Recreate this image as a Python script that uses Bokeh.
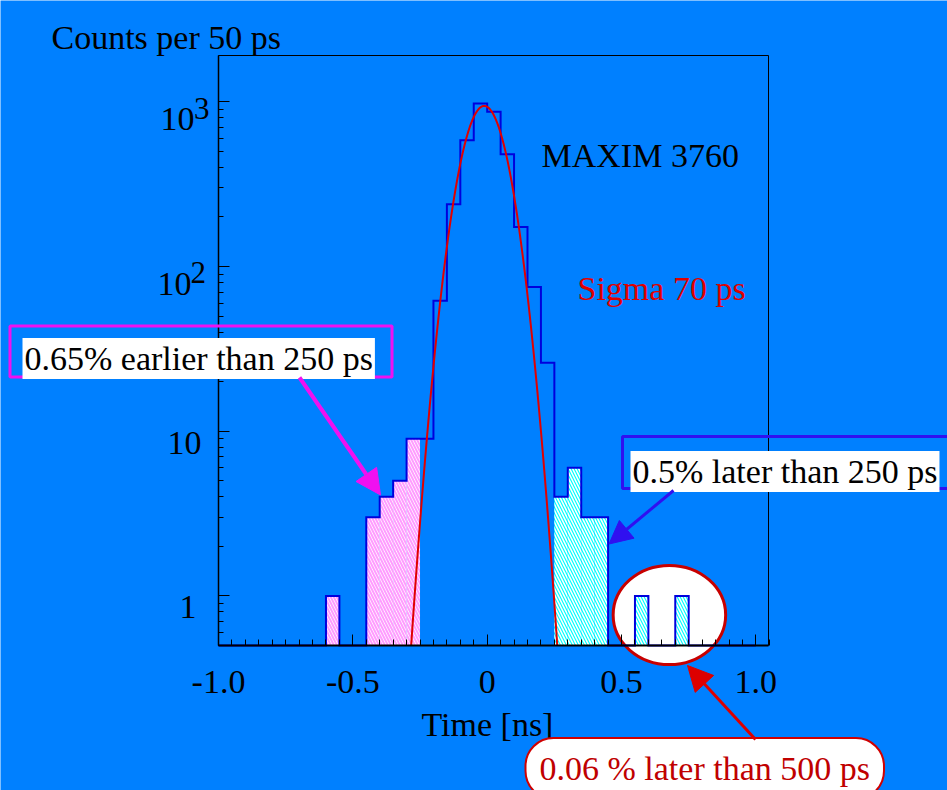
import math
import numpy as np
from bokeh.plotting import figure
from bokeh.models import (Range1d, FixedTicker, Label, Arrow, NormalHead,
                          BoxAnnotation, LinearAxis, LogAxis)
from bokeh.embed import file_html
from bokeh.resources import INLINE

# ---------------- data ----------------
bin_start = -1.0
bin_width = 0.05
counts = [0, 0, 0, 0, 0, 0, 0, 0,
          1, 0, 0, 3, 4, 5, 9, 9,
          62, 239, 585, 975, 869, 481, 174, 75, 26,
          4, 6, 3, 3, 0, 0, 1, 0, 0, 1,
          0, 0, 0, 0, 0]
bin_edges = [round(bin_start + i * bin_width, 2) for i in range(len(counts) + 1)]
early_cut = -0.25   # ns
late_cut = 0.25     # ns

fit_amplitude = 944.0
fit_mean = -0.011   # ns
fit_sigma = 0.070   # ns

x_ticks = [-1.0, -0.5, 0.0, 0.5, 1.0]
x_tick_labels = ["-1.0", "-0.5", "0", "0.5", "1.0"]
x_minor = [round(-1.0 + 0.05 * i, 2) for i in range(42)]
y_ticks = [1, 10, 100, 1000]
y_minor = [0.6, 0.7, 0.8, 0.9] + [m * d for d in (1, 10, 100) for m in range(2, 10)]

# ---------------- layout ----------------
# axes box (page pixels) and its data limits
X_START, X_END = -1.0, 1.047
Y_START, Y_END = 0.5, 1910.0
BOX_L, BOX_R, BOX_T, BOX_B = 218, 768, 55, 645
W, H = 947, 790
BG = "#0080ff"
FONT = "Liberation Serif"
MAG = "#f010f0"
VIO = "#3010f0"
DRED = "#c80000"

XPX = (BOX_R - BOX_L) / (X_END - X_START)
L0, L1 = math.log10(Y_START), math.log10(Y_END)
DEC = (BOX_B - BOX_T) / (L1 - L0)


def xd(px):
    return X_START + (px - BOX_L) / XPX


def yd(py):
    return 10 ** (L0 + (BOX_B - py) / DEC)


p = figure(width=W, height=H, title=None,
           x_range=Range1d(xd(0), xd(W)), y_range=Range1d(yd(H), yd(0)),
           y_axis_type="log", x_axis_location=None, y_axis_location=None,
           output_backend="svg", toolbar_location=None,
           min_border=0, min_border_left=0, min_border_right=0,
           min_border_top=0, min_border_bottom=0,
           background_fill_color=BG, border_fill_color=BG,
           outline_line_color=None)
p.grid.visible = False

# ellipse highlighting the > 500 ps entries (drawn first, under the bars)
p.ellipse(x=[xd(668.9)], y=[yd(614.5)], width=112.5, height=99,
          width_units="screen", height_units="screen",
          fill_color="white", line_color=DRED, line_width=3)

# hatched tails
floor = Y_START
el, er, et, ll, lr, lt = [], [], [], [], [], []
for i, c in enumerate(counts):
    if c <= 0:
        continue
    if bin_edges[i + 1] <= early_cut + 1e-9:
        el.append(bin_edges[i]); er.append(bin_edges[i + 1]); et.append(c)
    elif bin_edges[i] >= late_cut - 1e-9:
        ll.append(bin_edges[i]); lr.append(bin_edges[i + 1]); lt.append(c)

p.quad(left=el, right=er, top=et, bottom=floor, fill_color="white", line_color=None,
       hatch_pattern="\\", hatch_color="#ff9cff", hatch_scale=6, hatch_weight=2.0)
p.quad(left=ll, right=lr, top=lt, bottom=floor, fill_color="#00ffff", line_color=None,
       hatch_pattern="\\", hatch_color="white", hatch_scale=6, hatch_weight=1.6)

# histogram outline (step)
sx, sy = [], []
for i, c in enumerate(counts):
    v = c if c > 0 else floor
    sx += [bin_edges[i], bin_edges[i + 1]]
    sy += [v, v]
p.line(sx, sy, line_color="#0000dd", line_width=2, line_join="miter")

# gaussian fit, drawn down to the bottom of the axes box
half = fit_sigma * math.sqrt(2 * math.log(fit_amplitude / Y_START))
fx = np.linspace(fit_mean - half, fit_mean + half, 401)
fy = fit_amplitude * np.exp(-0.5 * ((fx - fit_mean) / fit_sigma) ** 2)
p.line(fx, fy, line_color="#e00000", line_width=2)

# axes box
p.add_layout(BoxAnnotation(left=X_START, right=X_END, bottom=Y_START, top=Y_END,
                           fill_alpha=0, line_color="black", line_alpha=1.0,
                           line_width=1))

# axes
xa = LinearAxis(fixed_location=Y_START, bounds=(X_START, X_END),
                ticker=FixedTicker(ticks=x_ticks, minor_ticks=x_minor))
xa.major_label_overrides = {k: v for k, v in zip(x_ticks, x_tick_labels)}
xa.major_label_text_font = FONT
xa.major_label_text_font_size = "34px"
xa.major_label_text_color = "black"
xa.major_label_standoff = 25
xa.major_tick_in, xa.major_tick_out = 11, 0
xa.minor_tick_in, xa.minor_tick_out = 6, 0
xa.axis_line_width = 2
p.add_layout(xa, "below")

ya = LogAxis(fixed_location=X_START, bounds=(Y_START, Y_END),
             ticker=FixedTicker(ticks=y_ticks, minor_ticks=y_minor))
ya.major_label_overrides = {k: "" for k in y_ticks}
ya.major_tick_in, ya.major_tick_out = 11, 0
ya.minor_tick_in, ya.minor_tick_out = 5, 0
ya.axis_line_width = 1.5
p.add_layout(ya, "left")


def lab(text, px, py, size=34, color="black", align="left", pad=0, **kw):
    # px, py: left edge / baseline of the text itself (padding compensated)
    extra = {}
    if pad:
        ph, pv = pad
        extra["padding"] = dict(left=ph, right=ph, top=pv, bottom=pv)
        px, py = px - ph, py - pv
    p.add_layout(Label(x=xd(px), y=yd(py), text=text, text_font=FONT,
                       text_font_size=f"{size}px", text_color=color,
                       text_align=align, text_baseline="alphabetic", **extra, **kw))


# y tick labels (with superscripts)
lab("10", 194, 118.3, align="right")
lab("3", 193.5, 108.3, size=31)
lab("10", 191, 283.3, align="right")
lab("2", 190, 272.0, size=31)
lab("10", 201, 442.7, align="right")
lab("1", 196, 606.0, align="right")

# axis titles and notes
lab("Counts per 50 ps", 51, 37.3)
lab("Time [ns]", 421, 724)
lab("MAXIM 3760", 541, 155)
lab("Sigma 70 ps", 577, 288, color="#e00000")

# boxed annotations
p.add_layout(BoxAnnotation(left=xd(9.5), right=xd(391.5), top=yd(325.5), bottom=yd(376.5),
                           fill_alpha=0, line_color=MAG, line_alpha=1.0, line_width=3))
lab("0.65% earlier than 250 ps", 24, 360, pad=(2, 2), background_fill_color="white")

p.add_layout(BoxAnnotation(left=xd(622), right=xd(960), top=yd(436), bottom=yd(488),
                           fill_alpha=0, line_color=VIO, line_alpha=1.0, line_width=3))
lab("0.5% later than 250 ps", 632, 473, pad=(2, 2), background_fill_color="white")

lab("0.06 % later than 500 ps", 539, 780, color="#c00000", pad=(14, 12),
    background_fill_color="white", border_line_color="#d00000", border_line_width=2,
    border_radius=28)

# arrows
p.add_layout(Arrow(end=NormalHead(size=25, fill_color=MAG, line_color=MAG),
                   x_start=xd(299), y_start=yd(377), x_end=xd(380), y_end=yd(494.5),
                   line_color=MAG, line_width=4))
p.add_layout(Arrow(end=NormalHead(size=23, fill_color=VIO, line_color=VIO),
                   x_start=xd(673), y_start=yd(490), x_end=xd(608.5), y_end=yd(543.5),
                   line_color=VIO, line_width=3))
p.add_layout(Arrow(end=NormalHead(size=25, fill_color="#dd0000", line_color="#dd0000"),
                   x_start=xd(755), y_start=yd(739), x_end=xd(687), y_end=yd(665),
                   line_color="#dd0000", line_width=3))

open("out.html", "w").write(file_html(p, INLINE))
